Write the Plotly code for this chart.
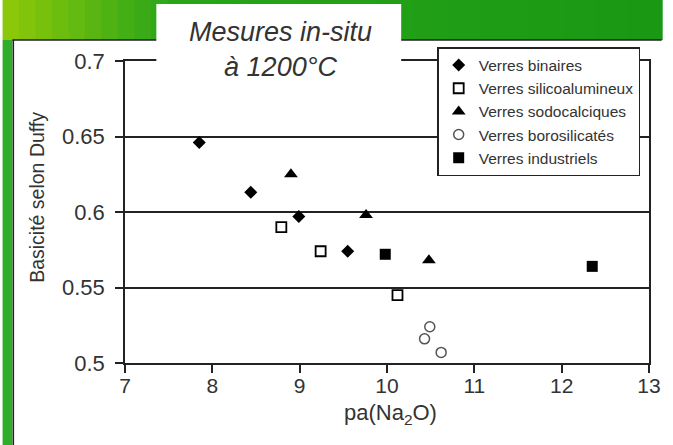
import plotly.graph_objects as go

# values
binaires_x = [7.85, 8.44, 8.99, 9.55]
binaires_y = [0.646, 0.613, 0.597, 0.574]

silico_x = [8.79, 9.24, 10.12]
silico_y = [0.590, 0.574, 0.545]

sodo_x = [8.90, 9.76, 10.48]
sodo_y = [0.625, 0.598, 0.568]

boro_x = [10.49, 10.43, 10.62]
boro_y = [0.524, 0.516, 0.507]

indus_x = [9.98, 12.35]
indus_y = [0.572, 0.564]

x_ticks = [7, 8, 9, 10, 11, 12, 13]
y_ticks = [0.5, 0.55, 0.6, 0.65, 0.7]

W, H = 673, 445
L, R, T, B = 125, 13, 61, 82
pw, ph = W - L - R, H - T - B


def px(x):
    return (x - L) / pw


def py(y):
    return (H - B - y) / ph


FONT = "Arial, Liberation Sans, sans-serif"
INK = "#333333"
LINE = "#222222"

fig = go.Figure()
fig.add_trace(go.Scatter(x=binaires_x, y=binaires_y, mode="markers", name="Verres binaires",
                         marker=dict(symbol="diamond", size=10, color="black")))
fig.add_trace(go.Scatter(x=silico_x, y=silico_y, mode="markers", name="Verres silicoalumineux",
                         marker=dict(symbol="square-open", size=10, color="black", line=dict(width=1.8))))
fig.add_trace(go.Scatter(x=sodo_x, y=sodo_y, mode="markers", name="Verres sodocalciques",
                         marker=dict(symbol="triangle-up", size=12, color="black")))
fig.add_trace(go.Scatter(x=boro_x, y=boro_y, mode="markers", name="Verres borosilicatés",
                         marker=dict(symbol="circle-open", size=10, color="#555555", line=dict(width=1.5))))
fig.add_trace(go.Scatter(x=indus_x, y=indus_y, mode="markers", name="Verres industriels",
                         marker=dict(symbol="square", size=11, color="black")))

shapes = []
# green slide header, drawn as thin strips for a gradient
n = 40
c0, c1, c2 = (140, 200, 10), (40, 165, 25), (26, 152, 20)
for i in range(n):
    t = i / (n - 1)
    if t < 0.25:
        u = t / 0.25
        c = [round(a + (b - a) * u) for a, b in zip(c0, c1)]
    else:
        u = (t - 0.25) / 0.75
        c = [round(a + (b - a) * u) for a, b in zip(c1, c2)]
    x0 = i * W / n
    shapes.append(dict(type="rect", xref="paper", yref="paper", layer="above",
                       x0=px(x0), x1=px(x0 + W / n + 1), y0=py(40), y1=py(0),
                       fillcolor="rgb(%d,%d,%d)" % tuple(c), line_width=0))
# left green strip
shapes.append(dict(type="rect", xref="paper", yref="paper", layer="above",
                   x0=px(0), x1=px(10), y0=py(H), y1=py(40),
                   fillcolor="#2fae2a", line_width=0))
# panel border lines
shapes.append(dict(type="line", xref="paper", yref="paper", layer="above",
                   x0=px(10), x1=px(W), y0=py(40), y1=py(40), line=dict(color=LINE, width=1.5)))
shapes.append(dict(type="line", xref="paper", yref="paper", layer="above",
                   x0=px(11), x1=px(11), y0=py(H), y1=py(40), line=dict(color=LINE, width=1.5)))
# title box
shapes.append(dict(type="rect", xref="paper", yref="paper", layer="above",
                   x0=px(157), x1=px(407), y0=py(64), y1=py(4),
                   fillcolor="white", line_width=0))

annotations = [
    dict(text="<i>Mesures in-situ<br>à 1200°C</i>", xref="paper", yref="paper",
         x=px(284), y=py(49), xanchor="center", yanchor="middle", showarrow=False,
         font=dict(family=FONT, size=27, color=INK)),
    dict(text="Basicité selon Duffy", xref="paper", yref="paper", textangle=-90,
         x=px(35), y=py(197), xanchor="center", yanchor="middle", showarrow=False,
         font=dict(family=FONT, size=19.5, color=INK)),
    dict(text="pa(Na<sub>2</sub>O)", xref="paper", yref="paper",
         x=px(396), y=py(414), xanchor="center", yanchor="middle", showarrow=False,
         font=dict(family=FONT, size=22, color=INK)),
]

fig.update_layout(
    width=W, height=H,
    margin=dict(l=L, r=R, t=T, b=B),
    paper_bgcolor="white", plot_bgcolor="white",
    font=dict(family=FONT, color=INK),
    shapes=shapes, annotations=annotations,
    showlegend=True,
    legend=dict(x=px(651), y=py(47), xanchor="right", yanchor="top",
                bgcolor="white", bordercolor=LINE, borderwidth=1.5,
                font=dict(family=FONT, size=15.5, color=INK),
                itemwidth=30, tracegroupgap=0),
    xaxis=dict(range=[7, 13], tickvals=x_ticks, ticks="outside", ticklen=8, tickwidth=1.5,
               tickcolor=LINE, showline=True, linecolor=LINE, linewidth=1.5, mirror=True,
               showgrid=False, zeroline=False, tickfont=dict(size=21, color=INK),
               ticklabelstandoff=-5),
    yaxis=dict(range=[0.5, 0.7], tickvals=y_ticks, ticks="outside", ticklen=8, tickwidth=1.5,
               tickcolor=LINE, showline=True, linecolor=LINE, linewidth=1.5, mirror=True,
               showgrid=True, gridcolor=LINE, gridwidth=1.5, zeroline=False,
               tickfont=dict(size=22, color=INK), ticklabelstandoff=6),
)

fig.write_html("out.html", config={"displayModeBar": False},
               post_script="document.body.style.margin='0';"
                           "document.body.style.overflow='hidden';"
                           "document.documentElement.style.overflow='hidden';")
